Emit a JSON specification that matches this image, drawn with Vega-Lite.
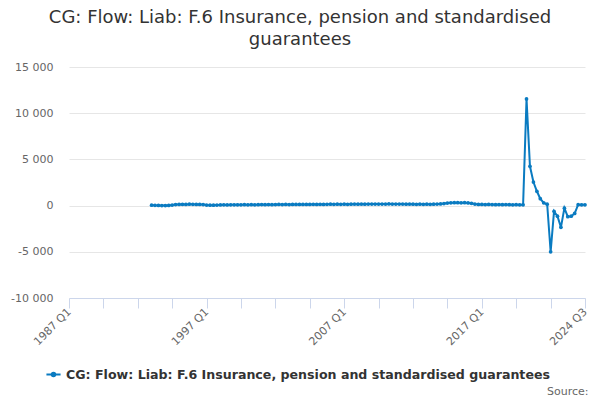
{
  "$schema": "https://vega.github.io/schema/vega-lite/v6.json",
  "autosize": {"type": "none"},
  "width": 516,
  "height": 231,
  "padding": {"left": 69, "top": 67, "right": 15, "bottom": 102},
  "config": {
    "font": "DejaVu Sans",
    "view": {"stroke": null}
  },
  "title": {
    "text": ["CG: Flow: Liab: F.6 Insurance, pension and standardised", "guarantees"],
    "fontSize": 18,
    "fontWeight": "normal",
    "color": "#333333",
    "anchor": "middle",
    "frame": "group",
    "dx": -27,
    "lineHeight": 22,
    "offset": 12
  },
  "data": {
    "values": [
      {"date": "1993-01-01", "value": 50},
      {"date": "1993-04-01", "value": 30},
      {"date": "1993-07-01", "value": 20},
      {"date": "1993-10-01", "value": 10},
      {"date": "1994-01-01", "value": 0},
      {"date": "1994-04-01", "value": 20},
      {"date": "1994-07-01", "value": 60},
      {"date": "1994-10-01", "value": 110},
      {"date": "1995-01-01", "value": 130},
      {"date": "1995-04-01", "value": 140},
      {"date": "1995-07-01", "value": 130},
      {"date": "1995-10-01", "value": 150},
      {"date": "1996-01-01", "value": 140},
      {"date": "1996-04-01", "value": 130},
      {"date": "1996-07-01", "value": 120},
      {"date": "1996-10-01", "value": 110},
      {"date": "1997-01-01", "value": 60},
      {"date": "1997-04-01", "value": 40},
      {"date": "1997-07-01", "value": 50},
      {"date": "1997-10-01", "value": 60},
      {"date": "1998-01-01", "value": 70},
      {"date": "1998-04-01", "value": 80},
      {"date": "1998-07-01", "value": 70},
      {"date": "1998-10-01", "value": 80},
      {"date": "1999-01-01", "value": 90},
      {"date": "1999-04-01", "value": 80},
      {"date": "1999-07-01", "value": 90},
      {"date": "1999-10-01", "value": 100},
      {"date": "2000-01-01", "value": 90},
      {"date": "2000-04-01", "value": 100},
      {"date": "2000-07-01", "value": 90},
      {"date": "2000-10-01", "value": 100},
      {"date": "2001-01-01", "value": 110},
      {"date": "2001-04-01", "value": 100},
      {"date": "2001-07-01", "value": 110},
      {"date": "2001-10-01", "value": 100},
      {"date": "2002-01-01", "value": 110},
      {"date": "2002-04-01", "value": 120},
      {"date": "2002-07-01", "value": 110},
      {"date": "2002-10-01", "value": 120},
      {"date": "2003-01-01", "value": 110},
      {"date": "2003-04-01", "value": 120},
      {"date": "2003-07-01", "value": 130},
      {"date": "2003-10-01", "value": 120},
      {"date": "2004-01-01", "value": 130},
      {"date": "2004-04-01", "value": 120},
      {"date": "2004-07-01", "value": 130},
      {"date": "2004-10-01", "value": 140},
      {"date": "2005-01-01", "value": 130},
      {"date": "2005-04-01", "value": 140},
      {"date": "2005-07-01", "value": 130},
      {"date": "2005-10-01", "value": 140},
      {"date": "2006-01-01", "value": 150},
      {"date": "2006-04-01", "value": 140},
      {"date": "2006-07-01", "value": 150},
      {"date": "2006-10-01", "value": 140},
      {"date": "2007-01-01", "value": 150},
      {"date": "2007-04-01", "value": 140},
      {"date": "2007-07-01", "value": 150},
      {"date": "2007-10-01", "value": 160},
      {"date": "2008-01-01", "value": 150},
      {"date": "2008-04-01", "value": 160},
      {"date": "2008-07-01", "value": 150},
      {"date": "2008-10-01", "value": 160},
      {"date": "2009-01-01", "value": 170},
      {"date": "2009-04-01", "value": 160},
      {"date": "2009-07-01", "value": 170},
      {"date": "2009-10-01", "value": 160},
      {"date": "2010-01-01", "value": 170},
      {"date": "2010-04-01", "value": 180},
      {"date": "2010-07-01", "value": 170},
      {"date": "2010-10-01", "value": 160},
      {"date": "2011-01-01", "value": 170},
      {"date": "2011-04-01", "value": 160},
      {"date": "2011-07-01", "value": 150},
      {"date": "2011-10-01", "value": 160},
      {"date": "2012-01-01", "value": 150},
      {"date": "2012-04-01", "value": 140},
      {"date": "2012-07-01", "value": 150},
      {"date": "2012-10-01", "value": 140},
      {"date": "2013-01-01", "value": 150},
      {"date": "2013-04-01", "value": 140},
      {"date": "2013-07-01", "value": 150},
      {"date": "2013-10-01", "value": 160},
      {"date": "2014-01-01", "value": 180},
      {"date": "2014-04-01", "value": 220},
      {"date": "2014-07-01", "value": 270},
      {"date": "2014-10-01", "value": 300},
      {"date": "2015-01-01", "value": 310},
      {"date": "2015-04-01", "value": 320},
      {"date": "2015-07-01", "value": 300},
      {"date": "2015-10-01", "value": 310},
      {"date": "2016-01-01", "value": 290},
      {"date": "2016-04-01", "value": 250},
      {"date": "2016-07-01", "value": 170},
      {"date": "2016-10-01", "value": 130},
      {"date": "2017-01-01", "value": 120},
      {"date": "2017-04-01", "value": 110},
      {"date": "2017-07-01", "value": 120},
      {"date": "2017-10-01", "value": 110},
      {"date": "2018-01-01", "value": 100},
      {"date": "2018-04-01", "value": 110},
      {"date": "2018-07-01", "value": 100},
      {"date": "2018-10-01", "value": 110},
      {"date": "2019-01-01", "value": 100},
      {"date": "2019-04-01", "value": 90},
      {"date": "2019-07-01", "value": 100},
      {"date": "2019-10-01", "value": 90},
      {"date": "2020-01-01", "value": 80},
      {"date": "2020-04-01", "value": 11550},
      {"date": "2020-07-01", "value": 4250},
      {"date": "2020-10-01", "value": 2550},
      {"date": "2021-01-01", "value": 1550},
      {"date": "2021-04-01", "value": 750},
      {"date": "2021-07-01", "value": 300},
      {"date": "2021-10-01", "value": 150},
      {"date": "2022-01-01", "value": -5000},
      {"date": "2022-04-01", "value": -620},
      {"date": "2022-07-01", "value": -1150},
      {"date": "2022-10-01", "value": -2350},
      {"date": "2023-01-01", "value": -280},
      {"date": "2023-04-01", "value": -1200},
      {"date": "2023-07-01", "value": -1150},
      {"date": "2023-10-01", "value": -850},
      {"date": "2024-01-01", "value": 100},
      {"date": "2024-04-01", "value": 80},
      {"date": "2024-07-01", "value": 80}
    ]
  },
  "mark": {
    "type": "line",
    "strokeWidth": 2,
    "point": {"filled": true, "size": 14}
  },
  "encoding": {
    "x": {
      "field": "date",
      "type": "temporal",
      "scale": {
        "type": "utc",
        "domain": [
          {"year": 1987, "month": 1, "date": 1, "utc": true},
          {"year": 2024, "month": 7, "date": 1, "utc": true}
        ]
      },
      "axis": {
        "values": [
          {"year": 1987, "month": 1, "date": 1, "utc": true},
          {"year": 1989, "month": 7, "date": 1, "utc": true},
          {"year": 1992, "month": 1, "date": 1, "utc": true},
          {"year": 1994, "month": 7, "date": 1, "utc": true},
          {"year": 1997, "month": 1, "date": 1, "utc": true},
          {"year": 1999, "month": 7, "date": 1, "utc": true},
          {"year": 2002, "month": 1, "date": 1, "utc": true},
          {"year": 2004, "month": 7, "date": 1, "utc": true},
          {"year": 2007, "month": 1, "date": 1, "utc": true},
          {"year": 2009, "month": 7, "date": 1, "utc": true},
          {"year": 2012, "month": 1, "date": 1, "utc": true},
          {"year": 2014, "month": 7, "date": 1, "utc": true},
          {"year": 2017, "month": 1, "date": 1, "utc": true},
          {"year": 2019, "month": 7, "date": 1, "utc": true},
          {"year": 2022, "month": 1, "date": 1, "utc": true},
          {"year": 2024, "month": 7, "date": 1, "utc": true}
        ],
        "labelExpr": "(utcmonth(datum.value) == 0 && (utcyear(datum.value) - 1987) % 10 == 0) || (utcyear(datum.value) == 2024 && utcmonth(datum.value) == 6) ? utcyear(datum.value) + ' Q' + (floor(utcmonth(datum.value) / 3) + 1) : ''",
        "labelAngle": -45,
        "labelAlign": "right",
        "labelBaseline": "middle",
        "labelOverlap": false,
        "labelFlush": false,
        "labelFontSize": 11,
        "labelColor": "#666666",
        "labelPadding": 2,
        "domainColor": "#ccd6eb",
        "tickColor": "#ccd6eb",
        "tickSize": 10,
        "grid": false,
        "title": "Source:",
        "titleAnchor": "end",
        "titleAlign": "right",
        "titleBaseline": "middle",
        "titleX": 519,
        "titleY": 93,
        "titleFontSize": 11,
        "titleFontWeight": "normal",
        "titleColor": "#666666"
      }
    },
    "y": {
      "field": "value",
      "type": "quantitative",
      "scale": {"domain": [-10000, 15000], "nice": false},
      "axis": {
        "values": [-10000, -5000, 0, 5000, 10000, 15000],
        "labelExpr": "(datum.value < 0 ? '-' : '') + replace(format(abs(datum.value), ','), ',', ' ')",
        "labelFontSize": 11,
        "labelColor": "#666666",
        "labelPadding": 16,
        "domain": false,
        "ticks": false,
        "gridColor": "#e6e6e6",
        "title": null
      }
    },
    "color": {
      "datum": "CG: Flow: Liab: F.6 Insurance, pension and standardised guarantees",
      "scale": {"range": ["#0a7bc1"]},
      "legend": {
        "orient": "none",
        "legendX": -24,
        "legendY": 299,
        "title": null,
        "symbolType": "M-1,0L1,0M-0.25,0A0.25,0.25 0 1 1 0.25,0A0.25,0.25 0 1 1 -0.25,0",
        "symbolSize": 200,
        "symbolStrokeWidth": 2,
        "labelFontSize": 12.6,
        "labelFontWeight": "bold",
        "labelColor": "#333333",
        "labelLimit": 600
      }
    }
  }
}
